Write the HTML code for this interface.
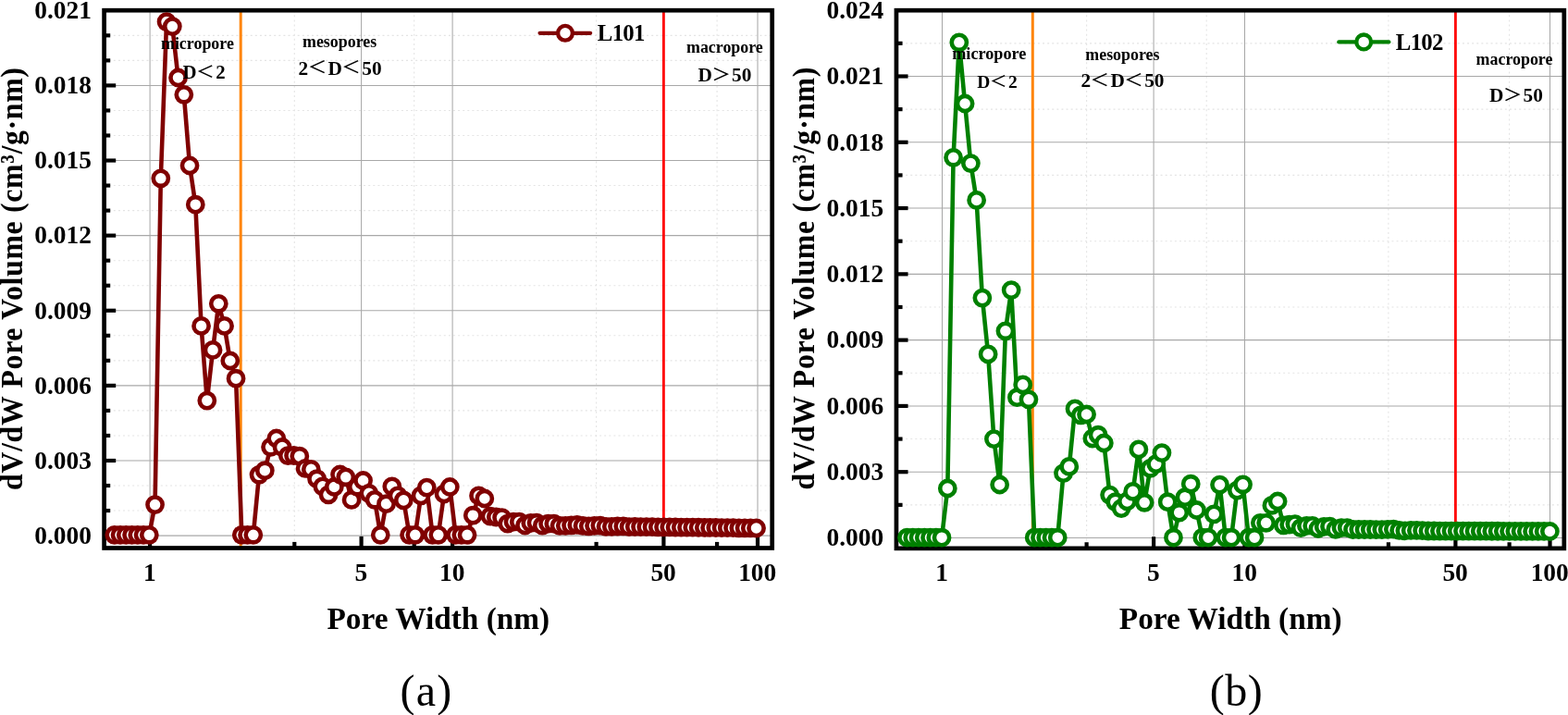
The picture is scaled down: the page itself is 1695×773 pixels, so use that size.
<!DOCTYPE html>
<html lang="en"><head><meta charset="utf-8"><title>Pore size distribution of L101 and L102</title>
<style>html,body{margin:0;padding:0;background:#fff}svg{display:block}text{font-family:'Liberation Serif', 'Noto Serif CJK SC', serif;fill:#000}.b{font-weight:bold}.tk{font-size:27.4px;font-weight:bold}.ti{font-size:33.33px;font-weight:bold}.cp{font-size:48px}.lg{font-size:24.8px;font-weight:bold;letter-spacing:-0.7px}.fw{font-family:"Liberation Serif","Noto Sans CJK SC",sans-serif;font-weight:500}</style></head><body>
<svg width="1695" height="773" viewBox="0 0 1695 773">
<rect width="1695" height="773" fill="#fff"/>
<g>
<g stroke="#e4e4e4" stroke-width="1.1" stroke-dasharray="2 3.1" fill="none">
<path d="M112.6 552.06H834.7"/>
<path d="M112.6 525.02H834.7"/>
<path d="M112.6 470.95H834.7"/>
<path d="M112.6 443.91H834.7"/>
<path d="M112.6 389.83H834.7"/>
<path d="M112.6 362.8H834.7"/>
<path d="M112.6 308.72H834.7"/>
<path d="M112.6 281.68H834.7"/>
<path d="M112.6 227.6H834.7"/>
<path d="M112.6 200.57H834.7"/>
<path d="M112.6 146.49H834.7"/>
<path d="M112.6 119.45H834.7"/>
<path d="M112.6 65.38H834.7"/>
<path d="M112.6 38.34H834.7"/>
<path d="M318.3 11.2V592.5"/>
<path d="M447.7 11.2V592.5"/>
<path d="M644.6 11.2V592.5"/>
<path d="M775.1 11.2V592.5"/>
</g>
<g stroke="#a8a8a8" stroke-width="1.05" fill="none">
<path d="M112.6 579.1H834.7"/>
<path d="M112.6 497.99H834.7"/>
<path d="M112.6 416.87H834.7"/>
<path d="M112.6 335.76H834.7"/>
<path d="M112.6 254.64H834.7"/>
<path d="M112.6 173.53H834.7"/>
<path d="M112.6 92.41H834.7"/>
<path d="M162.1 11.2V592.5"/>
<path d="M390.6 11.2V592.5"/>
<path d="M489.1 11.2V592.5"/>
<path d="M717.4 11.2V592.5"/>
<path d="M819 11.2V592.5"/>
</g>
<path d="M260.2 11.2V592.5" stroke="#ff850a" stroke-width="3.0" fill="none"/>
<path d="M717.4 11.2V592.5" stroke="#ff0000" stroke-width="2.8" fill="none"/>
<g stroke="#000" stroke-width="4.2" fill="none">
<path d="M112.6 497.99h12.6"/>
<path d="M112.6 416.87h12.6"/>
<path d="M112.6 335.76h12.6"/>
<path d="M112.6 254.64h12.6"/>
<path d="M112.6 173.53h12.6"/>
<path d="M112.6 92.41h12.6"/>
<path d="M112.6 552.06h6.6"/>
<path d="M112.6 525.02h6.6"/>
<path d="M112.6 470.95h6.6"/>
<path d="M112.6 443.91h6.6"/>
<path d="M112.6 389.83h6.6"/>
<path d="M112.6 362.8h6.6"/>
<path d="M112.6 308.72h6.6"/>
<path d="M112.6 281.68h6.6"/>
<path d="M112.6 227.6h6.6"/>
<path d="M112.6 200.57h6.6"/>
<path d="M112.6 146.49h6.6"/>
<path d="M112.6 119.45h6.6"/>
<path d="M112.6 65.38h6.6"/>
<path d="M112.6 38.34h6.6"/>
<path d="M162.1 592.5v-12.6"/>
<path d="M390.6 592.5v-12.6"/>
<path d="M489.1 592.5v-12.6"/>
<path d="M717.4 592.5v-12.6"/>
<path d="M819 592.5v-12.6"/>
<path d="M318.3 592.5v-6.6"/>
<path d="M447.7 592.5v-6.6"/>
<path d="M644.6 592.5v-6.6"/>
<path d="M775.1 592.5v-6.6"/>
</g>
<rect x="112.6" y="11.2" width="722.1" height="581.3" fill="none" stroke="#000" stroke-width="4.7"/>
<polyline fill="none" stroke="#800000" stroke-width="4.6" stroke-linejoin="round" points="123.8,578.3 130.05,578.3 136.3,578.3 142.55,578.3 148.8,578.3 155.05,578.3 161.3,578.3 167.55,545.6 173.8,192.8 180.05,23.6 186.3,28.6 192.55,84 198.8,102.3 205.05,179 211.3,221.2 217.55,352.4 223.8,433.1 230.05,378.4 236.3,328.3 242.55,352.4 248.8,390 255.05,409.2 261.3,578.3 267.55,578.3 273.8,578.3 280.05,513.3 286.3,508.7 292.55,483.3 298.8,474 305.05,483.5 311.3,492.6 317.55,492.5 323.8,493.2 330.05,506.4 336.3,507.4 342.55,517.7 348.8,525.8 355.05,534.8 361.3,526.5 367.55,513 373.8,515.8 380.05,540.4 386.3,526.3 392.55,519.5 398.8,533.3 405.05,540.3 411.3,578.3 417.55,544.7 423.8,525.9 430.05,535.9 436.3,540.9 442.55,578.3 448.8,578.3 455.05,535.9 461.3,527.1 467.55,578.3 473.8,578.3 480.05,534 486.3,526.5 492.55,578.3 498.8,578.3 505.05,578.3 511.3,557.2 517.55,535.9 523.8,539 530.05,558.2 536.3,559 542.55,559.6 548.8,566.2 555.05,564.2 561.3,564.2 567.55,568 573.8,565.4 580.05,565.2 586.3,568.2 592.55,566.2 598.8,566.2 605.05,568.3 611.3,568.3 617.55,567.8 623.8,567.4 630.05,568.4 636.3,568.8 642.55,568.3 648.8,568.1 655.05,569.3 661.3,569.3 667.55,569 673.8,568.9 680.05,569.6 686.3,569.5 692.55,569.57 698.8,569.64 705.05,569.71 711.3,569.78 717.55,569.85 723.8,569.92 730.05,569.99 736.3,570.06 742.55,570.13 748.8,570.2 755.05,570.27 761.3,570.35 767.55,570.42 773.8,570.49 780.05,570.56 786.3,570.64 792.55,570.71 798.8,570.78 805.05,570.85 811.3,570.93 817.55,571"/>
<g fill="#fff" stroke="#800000" stroke-width="4.6">
<circle cx="123.8" cy="578.3" r="8.1"/>
<circle cx="130.05" cy="578.3" r="8.1"/>
<circle cx="136.3" cy="578.3" r="8.1"/>
<circle cx="142.55" cy="578.3" r="8.1"/>
<circle cx="148.8" cy="578.3" r="8.1"/>
<circle cx="155.05" cy="578.3" r="8.1"/>
<circle cx="161.3" cy="578.3" r="8.1"/>
<circle cx="167.55" cy="545.6" r="8.1"/>
<circle cx="173.8" cy="192.8" r="8.1"/>
<circle cx="180.05" cy="23.6" r="8.1"/>
<circle cx="186.3" cy="28.6" r="8.1"/>
<circle cx="192.55" cy="84" r="8.1"/>
<circle cx="198.8" cy="102.3" r="8.1"/>
<circle cx="205.05" cy="179" r="8.1"/>
<circle cx="211.3" cy="221.2" r="8.1"/>
<circle cx="217.55" cy="352.4" r="8.1"/>
<circle cx="223.8" cy="433.1" r="8.1"/>
<circle cx="230.05" cy="378.4" r="8.1"/>
<circle cx="236.3" cy="328.3" r="8.1"/>
<circle cx="242.55" cy="352.4" r="8.1"/>
<circle cx="248.8" cy="390" r="8.1"/>
<circle cx="255.05" cy="409.2" r="8.1"/>
<circle cx="261.3" cy="578.3" r="8.1"/>
<circle cx="267.55" cy="578.3" r="8.1"/>
<circle cx="273.8" cy="578.3" r="8.1"/>
<circle cx="280.05" cy="513.3" r="8.1"/>
<circle cx="286.3" cy="508.7" r="8.1"/>
<circle cx="292.55" cy="483.3" r="8.1"/>
<circle cx="298.8" cy="474" r="8.1"/>
<circle cx="305.05" cy="483.5" r="8.1"/>
<circle cx="311.3" cy="492.6" r="8.1"/>
<circle cx="317.55" cy="492.5" r="8.1"/>
<circle cx="323.8" cy="493.2" r="8.1"/>
<circle cx="330.05" cy="506.4" r="8.1"/>
<circle cx="336.3" cy="507.4" r="8.1"/>
<circle cx="342.55" cy="517.7" r="8.1"/>
<circle cx="348.8" cy="525.8" r="8.1"/>
<circle cx="355.05" cy="534.8" r="8.1"/>
<circle cx="361.3" cy="526.5" r="8.1"/>
<circle cx="367.55" cy="513" r="8.1"/>
<circle cx="373.8" cy="515.8" r="8.1"/>
<circle cx="380.05" cy="540.4" r="8.1"/>
<circle cx="386.3" cy="526.3" r="8.1"/>
<circle cx="392.55" cy="519.5" r="8.1"/>
<circle cx="398.8" cy="533.3" r="8.1"/>
<circle cx="405.05" cy="540.3" r="8.1"/>
<circle cx="411.3" cy="578.3" r="8.1"/>
<circle cx="417.55" cy="544.7" r="8.1"/>
<circle cx="423.8" cy="525.9" r="8.1"/>
<circle cx="430.05" cy="535.9" r="8.1"/>
<circle cx="436.3" cy="540.9" r="8.1"/>
<circle cx="442.55" cy="578.3" r="8.1"/>
<circle cx="448.8" cy="578.3" r="8.1"/>
<circle cx="455.05" cy="535.9" r="8.1"/>
<circle cx="461.3" cy="527.1" r="8.1"/>
<circle cx="467.55" cy="578.3" r="8.1"/>
<circle cx="473.8" cy="578.3" r="8.1"/>
<circle cx="480.05" cy="534" r="8.1"/>
<circle cx="486.3" cy="526.5" r="8.1"/>
<circle cx="492.55" cy="578.3" r="8.1"/>
<circle cx="498.8" cy="578.3" r="8.1"/>
<circle cx="505.05" cy="578.3" r="8.1"/>
<circle cx="511.3" cy="557.2" r="8.1"/>
<circle cx="517.55" cy="535.9" r="8.1"/>
<circle cx="523.8" cy="539" r="8.1"/>
<circle cx="530.05" cy="558.2" r="8.1"/>
<circle cx="536.3" cy="559" r="8.1"/>
<circle cx="542.55" cy="559.6" r="8.1"/>
<circle cx="548.8" cy="566.2" r="8.1"/>
<circle cx="555.05" cy="564.2" r="8.1"/>
<circle cx="561.3" cy="564.2" r="8.1"/>
<circle cx="567.55" cy="568" r="8.1"/>
<circle cx="573.8" cy="565.4" r="8.1"/>
<circle cx="580.05" cy="565.2" r="8.1"/>
<circle cx="586.3" cy="568.2" r="8.1"/>
<circle cx="592.55" cy="566.2" r="8.1"/>
<circle cx="598.8" cy="566.2" r="8.1"/>
<circle cx="605.05" cy="568.3" r="8.1"/>
<circle cx="611.3" cy="568.3" r="8.1"/>
<circle cx="617.55" cy="567.8" r="8.1"/>
<circle cx="623.8" cy="567.4" r="8.1"/>
<circle cx="630.05" cy="568.4" r="8.1"/>
<circle cx="636.3" cy="568.8" r="8.1"/>
<circle cx="642.55" cy="568.3" r="8.1"/>
<circle cx="648.8" cy="568.1" r="8.1"/>
<circle cx="655.05" cy="569.3" r="8.1"/>
<circle cx="661.3" cy="569.3" r="8.1"/>
<circle cx="667.55" cy="569" r="8.1"/>
<circle cx="673.8" cy="568.9" r="8.1"/>
<circle cx="680.05" cy="569.6" r="8.1"/>
<circle cx="686.3" cy="569.5" r="8.1"/>
<circle cx="692.55" cy="569.57" r="8.1"/>
<circle cx="698.8" cy="569.64" r="8.1"/>
<circle cx="705.05" cy="569.71" r="8.1"/>
<circle cx="711.3" cy="569.78" r="8.1"/>
<circle cx="717.55" cy="569.85" r="8.1"/>
<circle cx="723.8" cy="569.92" r="8.1"/>
<circle cx="730.05" cy="569.99" r="8.1"/>
<circle cx="736.3" cy="570.06" r="8.1"/>
<circle cx="742.55" cy="570.13" r="8.1"/>
<circle cx="748.8" cy="570.2" r="8.1"/>
<circle cx="755.05" cy="570.27" r="8.1"/>
<circle cx="761.3" cy="570.35" r="8.1"/>
<circle cx="767.55" cy="570.42" r="8.1"/>
<circle cx="773.8" cy="570.49" r="8.1"/>
<circle cx="780.05" cy="570.56" r="8.1"/>
<circle cx="786.3" cy="570.64" r="8.1"/>
<circle cx="792.55" cy="570.71" r="8.1"/>
<circle cx="798.8" cy="570.78" r="8.1"/>
<circle cx="805.05" cy="570.85" r="8.1"/>
<circle cx="811.3" cy="570.93" r="8.1"/>
<circle cx="817.55" cy="571" r="8.1"/>
</g>
<text class="b" x="174" y="52.6" font-size="17.9">micropore</text>
<text class="b" x="197.4" y="84.65" font-size="20.8">D<tspan class="fw" font-size="17.89" dx="-0.6" dy="-1.11" textLength="20.18" lengthAdjust="spacingAndGlyphs">＜</tspan><tspan dx="1.22" dy="1.11">2</tspan></text>
<text class="b" x="327" y="50.7" font-size="17.9">mesopores</text>
<text class="b" x="322.6" y="80.6" font-size="21.3">2<tspan class="fw" font-size="18.32" dx="-0.6" dy="-1.13" textLength="20.66" lengthAdjust="spacingAndGlyphs">＜</tspan><tspan dx="1.24" dy="1.13">D</tspan><tspan class="fw" font-size="18.32" dx="-0.6" dy="-1.13" textLength="20.66" lengthAdjust="spacingAndGlyphs">＜</tspan><tspan dx="1.24" dy="1.13">50</tspan></text>
<text class="b" x="742" y="56.5" font-size="17.9">macropore</text>
<text class="b" x="754.4" y="88.1" font-size="21.3">D<tspan class="fw" font-size="18.32" dx="-0.6" dy="-1.13" textLength="20.66" lengthAdjust="spacingAndGlyphs">＞</tspan><tspan dx="1.24" dy="1.13">50</tspan></text>
<path d="M583.6 35.8H638.1" stroke="#800000" stroke-width="4.3" stroke-linecap="round" fill="none"/>
<circle cx="611" cy="35.8" r="7.9" fill="#fff" stroke="#800000" stroke-width="4.3"/>
<text class="lg" x="645.8" y="43.6">L101</text>
<text class="tk" text-anchor="end" x="98.9" y="587.9">0.000</text>
<text class="tk" text-anchor="end" x="98.9" y="506.79">0.003</text>
<text class="tk" text-anchor="end" x="98.9" y="425.67">0.006</text>
<text class="tk" text-anchor="end" x="98.9" y="344.56">0.009</text>
<text class="tk" text-anchor="end" x="98.9" y="263.44">0.012</text>
<text class="tk" text-anchor="end" x="98.9" y="182.33">0.015</text>
<text class="tk" text-anchor="end" x="98.9" y="101.21">0.018</text>
<text class="tk" text-anchor="end" x="98.9" y="20.1">0.021</text>
<text class="tk" text-anchor="middle" x="161.8" y="628.3">1</text>
<text class="tk" text-anchor="middle" x="390.3" y="628.3">5</text>
<text class="tk" text-anchor="middle" x="488.8" y="628.3">10</text>
<text class="tk" text-anchor="middle" x="717.1" y="628.3">50</text>
<text class="tk" text-anchor="middle" x="818.7" y="628.3">100</text>
<text class="ti" text-anchor="middle" x="473.8" y="679.8">Pore Width (nm)</text>
<text class="ti" text-anchor="middle" letter-spacing="0.7" transform="translate(24.3 301.2) rotate(-90) scale(0.955 1)">dV/dW Pore Volume (cm³/g·nm)</text>
<text class="cp" text-anchor="middle" letter-spacing="1.3" x="461" y="763.2">(a)</text>
</g>
<g>
<g stroke="#e4e4e4" stroke-width="1.1" stroke-dasharray="2 3.1" fill="none">
<path d="M968.95 545.86H1690.8"/>
<path d="M968.95 474.57H1690.8"/>
<path d="M968.95 403.28H1690.8"/>
<path d="M968.95 331.99H1690.8"/>
<path d="M968.95 260.71H1690.8"/>
<path d="M968.95 189.42H1690.8"/>
<path d="M968.95 118.13H1690.8"/>
<path d="M968.95 46.84H1690.8"/>
<path d="M1174.6 11.2V592.85"/>
<path d="M1304.2 11.2V592.85"/>
<path d="M1500.9 11.2V592.85"/>
<path d="M1631.6 11.2V592.85"/>
</g>
<g stroke="#a8a8a8" stroke-width="1.05" fill="none">
<path d="M968.95 581.5H1690.8"/>
<path d="M968.95 510.21H1690.8"/>
<path d="M968.95 438.93H1690.8"/>
<path d="M968.95 367.64H1690.8"/>
<path d="M968.95 296.35H1690.8"/>
<path d="M968.95 225.06H1690.8"/>
<path d="M968.95 153.78H1690.8"/>
<path d="M968.95 82.49H1690.8"/>
<path d="M1018.5 11.2V592.85"/>
<path d="M1247.1 11.2V592.85"/>
<path d="M1345.5 11.2V592.85"/>
<path d="M1573.4 11.2V592.85"/>
<path d="M1675.5 11.2V592.85"/>
</g>
<path d="M1116.3 11.2V592.85" stroke="#ff850a" stroke-width="3.0" fill="none"/>
<path d="M1573.4 11.2V592.85" stroke="#ff0000" stroke-width="2.8" fill="none"/>
<g stroke="#000" stroke-width="4.2" fill="none">
<path d="M968.95 510.21h12.6"/>
<path d="M968.95 438.93h12.6"/>
<path d="M968.95 367.64h12.6"/>
<path d="M968.95 296.35h12.6"/>
<path d="M968.95 225.06h12.6"/>
<path d="M968.95 153.78h12.6"/>
<path d="M968.95 82.49h12.6"/>
<path d="M968.95 545.86h6.6"/>
<path d="M968.95 474.57h6.6"/>
<path d="M968.95 403.28h6.6"/>
<path d="M968.95 331.99h6.6"/>
<path d="M968.95 260.71h6.6"/>
<path d="M968.95 189.42h6.6"/>
<path d="M968.95 118.13h6.6"/>
<path d="M968.95 46.84h6.6"/>
<path d="M1018.5 592.85v-12.6"/>
<path d="M1247.1 592.85v-12.6"/>
<path d="M1345.5 592.85v-12.6"/>
<path d="M1573.4 592.85v-12.6"/>
<path d="M1675.5 592.85v-12.6"/>
<path d="M1174.6 592.85v-6.6"/>
<path d="M1304.2 592.85v-6.6"/>
<path d="M1500.9 592.85v-6.6"/>
<path d="M1631.6 592.85v-6.6"/>
</g>
<rect x="968.95" y="11.2" width="721.85" height="581.65" fill="none" stroke="#000" stroke-width="4.7"/>
<polyline fill="none" stroke="#008000" stroke-width="4.6" stroke-linejoin="round" points="980.5,581.2 986.76,581.2 993.02,581.2 999.28,581.2 1005.54,581.2 1011.8,581.2 1018.06,581.2 1024.32,528 1030.58,170.3 1036.84,45.8 1043.1,112 1049.36,176.6 1055.62,216.4 1061.88,322.1 1068.14,382.9 1074.4,474.6 1080.66,524 1086.92,357.8 1093.18,313.6 1099.44,429.7 1105.7,415.9 1111.96,431.8 1118.22,581.2 1124.48,581.2 1130.74,581.2 1137,581.2 1143.26,581.2 1149.52,511.7 1155.78,504.4 1162.04,441.9 1168.3,448.8 1174.56,448 1180.82,474 1187.08,470.2 1193.34,479 1199.6,535.1 1205.86,542.7 1212.12,549.6 1218.38,542 1224.64,531.4 1230.9,485.9 1237.16,543.3 1243.42,506.4 1249.68,501.6 1255.94,489.6 1262.2,542.7 1268.46,581.2 1274.72,554.2 1280.98,537.7 1287.24,523.2 1293.5,551.5 1299.76,581.2 1306.02,581.2 1312.28,555.9 1318.54,524.1 1324.8,581.2 1331.06,581.2 1337.32,530.1 1343.58,523.8 1349.84,581.2 1356.1,581.2 1362.36,565.3 1368.62,565.3 1374.88,546.4 1381.14,542 1387.4,567.9 1393.66,567.2 1399.92,566.6 1406.18,570.6 1412.44,568.4 1418.7,568.4 1424.96,571.5 1431.22,569.4 1437.48,569.2 1443.74,572.4 1450,570.6 1456.26,570.6 1462.52,572.5 1468.78,572.5 1475.04,572.5 1481.3,572.5 1487.56,572.6 1493.82,572.6 1500.08,572.3 1506.34,572.2 1512.6,573.4 1518.86,573.8 1525.12,573.4 1531.38,573.4 1537.64,573.7 1543.9,574 1550.16,574.02 1556.42,574.04 1562.68,574.06 1568.94,574.08 1575.2,574.1 1581.46,574.12 1587.72,574.14 1593.98,574.16 1600.24,574.18 1606.5,574.2 1612.76,574.23 1619.02,574.25 1625.28,574.28 1631.54,574.31 1637.8,574.34 1644.06,574.36 1650.32,574.39 1656.58,574.42 1662.84,574.45 1669.1,574.47 1675.36,574.5"/>
<g fill="#fff" stroke="#008000" stroke-width="4.6">
<circle cx="980.5" cy="581.2" r="8.1"/>
<circle cx="986.76" cy="581.2" r="8.1"/>
<circle cx="993.02" cy="581.2" r="8.1"/>
<circle cx="999.28" cy="581.2" r="8.1"/>
<circle cx="1005.54" cy="581.2" r="8.1"/>
<circle cx="1011.8" cy="581.2" r="8.1"/>
<circle cx="1018.06" cy="581.2" r="8.1"/>
<circle cx="1024.32" cy="528" r="8.1"/>
<circle cx="1030.58" cy="170.3" r="8.1"/>
<circle cx="1036.84" cy="45.8" r="8.1"/>
<circle cx="1043.1" cy="112" r="8.1"/>
<circle cx="1049.36" cy="176.6" r="8.1"/>
<circle cx="1055.62" cy="216.4" r="8.1"/>
<circle cx="1061.88" cy="322.1" r="8.1"/>
<circle cx="1068.14" cy="382.9" r="8.1"/>
<circle cx="1074.4" cy="474.6" r="8.1"/>
<circle cx="1080.66" cy="524" r="8.1"/>
<circle cx="1086.92" cy="357.8" r="8.1"/>
<circle cx="1093.18" cy="313.6" r="8.1"/>
<circle cx="1099.44" cy="429.7" r="8.1"/>
<circle cx="1105.7" cy="415.9" r="8.1"/>
<circle cx="1111.96" cy="431.8" r="8.1"/>
<circle cx="1118.22" cy="581.2" r="8.1"/>
<circle cx="1124.48" cy="581.2" r="8.1"/>
<circle cx="1130.74" cy="581.2" r="8.1"/>
<circle cx="1137" cy="581.2" r="8.1"/>
<circle cx="1143.26" cy="581.2" r="8.1"/>
<circle cx="1149.52" cy="511.7" r="8.1"/>
<circle cx="1155.78" cy="504.4" r="8.1"/>
<circle cx="1162.04" cy="441.9" r="8.1"/>
<circle cx="1168.3" cy="448.8" r="8.1"/>
<circle cx="1174.56" cy="448" r="8.1"/>
<circle cx="1180.82" cy="474" r="8.1"/>
<circle cx="1187.08" cy="470.2" r="8.1"/>
<circle cx="1193.34" cy="479" r="8.1"/>
<circle cx="1199.6" cy="535.1" r="8.1"/>
<circle cx="1205.86" cy="542.7" r="8.1"/>
<circle cx="1212.12" cy="549.6" r="8.1"/>
<circle cx="1218.38" cy="542" r="8.1"/>
<circle cx="1224.64" cy="531.4" r="8.1"/>
<circle cx="1230.9" cy="485.9" r="8.1"/>
<circle cx="1237.16" cy="543.3" r="8.1"/>
<circle cx="1243.42" cy="506.4" r="8.1"/>
<circle cx="1249.68" cy="501.6" r="8.1"/>
<circle cx="1255.94" cy="489.6" r="8.1"/>
<circle cx="1262.2" cy="542.7" r="8.1"/>
<circle cx="1268.46" cy="581.2" r="8.1"/>
<circle cx="1274.72" cy="554.2" r="8.1"/>
<circle cx="1280.98" cy="537.7" r="8.1"/>
<circle cx="1287.24" cy="523.2" r="8.1"/>
<circle cx="1293.5" cy="551.5" r="8.1"/>
<circle cx="1299.76" cy="581.2" r="8.1"/>
<circle cx="1306.02" cy="581.2" r="8.1"/>
<circle cx="1312.28" cy="555.9" r="8.1"/>
<circle cx="1318.54" cy="524.1" r="8.1"/>
<circle cx="1324.8" cy="581.2" r="8.1"/>
<circle cx="1331.06" cy="581.2" r="8.1"/>
<circle cx="1337.32" cy="530.1" r="8.1"/>
<circle cx="1343.58" cy="523.8" r="8.1"/>
<circle cx="1349.84" cy="581.2" r="8.1"/>
<circle cx="1356.1" cy="581.2" r="8.1"/>
<circle cx="1362.36" cy="565.3" r="8.1"/>
<circle cx="1368.62" cy="565.3" r="8.1"/>
<circle cx="1374.88" cy="546.4" r="8.1"/>
<circle cx="1381.14" cy="542" r="8.1"/>
<circle cx="1387.4" cy="567.9" r="8.1"/>
<circle cx="1393.66" cy="567.2" r="8.1"/>
<circle cx="1399.92" cy="566.6" r="8.1"/>
<circle cx="1406.18" cy="570.6" r="8.1"/>
<circle cx="1412.44" cy="568.4" r="8.1"/>
<circle cx="1418.7" cy="568.4" r="8.1"/>
<circle cx="1424.96" cy="571.5" r="8.1"/>
<circle cx="1431.22" cy="569.4" r="8.1"/>
<circle cx="1437.48" cy="569.2" r="8.1"/>
<circle cx="1443.74" cy="572.4" r="8.1"/>
<circle cx="1450" cy="570.6" r="8.1"/>
<circle cx="1456.26" cy="570.6" r="8.1"/>
<circle cx="1462.52" cy="572.5" r="8.1"/>
<circle cx="1468.78" cy="572.5" r="8.1"/>
<circle cx="1475.04" cy="572.5" r="8.1"/>
<circle cx="1481.3" cy="572.5" r="8.1"/>
<circle cx="1487.56" cy="572.6" r="8.1"/>
<circle cx="1493.82" cy="572.6" r="8.1"/>
<circle cx="1500.08" cy="572.3" r="8.1"/>
<circle cx="1506.34" cy="572.2" r="8.1"/>
<circle cx="1512.6" cy="573.4" r="8.1"/>
<circle cx="1518.86" cy="573.8" r="8.1"/>
<circle cx="1525.12" cy="573.4" r="8.1"/>
<circle cx="1531.38" cy="573.4" r="8.1"/>
<circle cx="1537.64" cy="573.7" r="8.1"/>
<circle cx="1543.9" cy="574" r="8.1"/>
<circle cx="1550.16" cy="574.02" r="8.1"/>
<circle cx="1556.42" cy="574.04" r="8.1"/>
<circle cx="1562.68" cy="574.06" r="8.1"/>
<circle cx="1568.94" cy="574.08" r="8.1"/>
<circle cx="1575.2" cy="574.1" r="8.1"/>
<circle cx="1581.46" cy="574.12" r="8.1"/>
<circle cx="1587.72" cy="574.14" r="8.1"/>
<circle cx="1593.98" cy="574.16" r="8.1"/>
<circle cx="1600.24" cy="574.18" r="8.1"/>
<circle cx="1606.5" cy="574.2" r="8.1"/>
<circle cx="1612.76" cy="574.23" r="8.1"/>
<circle cx="1619.02" cy="574.25" r="8.1"/>
<circle cx="1625.28" cy="574.28" r="8.1"/>
<circle cx="1631.54" cy="574.31" r="8.1"/>
<circle cx="1637.8" cy="574.34" r="8.1"/>
<circle cx="1644.06" cy="574.36" r="8.1"/>
<circle cx="1650.32" cy="574.39" r="8.1"/>
<circle cx="1656.58" cy="574.42" r="8.1"/>
<circle cx="1662.84" cy="574.45" r="8.1"/>
<circle cx="1669.1" cy="574.47" r="8.1"/>
<circle cx="1675.36" cy="574.5" r="8.1"/>
</g>
<text class="b" x="1029.2" y="63.5" font-size="18.2">micropore</text>
<text class="b" x="1056.3" y="94.9" font-size="19.5">D<tspan class="fw" font-size="16.77" dx="-0.6" dy="-1.04" textLength="18.91" lengthAdjust="spacingAndGlyphs">＜</tspan><tspan dx="1.19" dy="1.04">2</tspan></text>
<text class="b" x="1173.3" y="64.6" font-size="17.9">mesopores</text>
<text class="b" x="1168.5" y="94.4" font-size="21.3">2<tspan class="fw" font-size="18.32" dx="-0.6" dy="-1.13" textLength="20.66" lengthAdjust="spacingAndGlyphs">＜</tspan><tspan dx="1.24" dy="1.13">D</tspan><tspan class="fw" font-size="18.32" dx="-0.6" dy="-1.13" textLength="20.66" lengthAdjust="spacingAndGlyphs">＜</tspan><tspan dx="1.24" dy="1.13">50</tspan></text>
<text class="b" x="1595.6" y="70.4" font-size="17.9">macropore</text>
<text class="b" x="1609.9" y="109.8" font-size="21.3">D<tspan class="fw" font-size="18.32" dx="-0.6" dy="-1.13" textLength="20.66" lengthAdjust="spacingAndGlyphs">＞</tspan><tspan dx="1.24" dy="1.13">50</tspan></text>
<path d="M1447.3 45.4H1501.3" stroke="#008000" stroke-width="4.3" stroke-linecap="round" fill="none"/>
<circle cx="1474.2" cy="45.4" r="7.9" fill="#fff" stroke="#008000" stroke-width="4.3"/>
<text class="lg" x="1508.8" y="53.6">L102</text>
<text class="tk" text-anchor="end" x="955.2" y="590.3">0.000</text>
<text class="tk" text-anchor="end" x="955.2" y="519.01">0.003</text>
<text class="tk" text-anchor="end" x="955.2" y="447.73">0.006</text>
<text class="tk" text-anchor="end" x="955.2" y="376.44">0.009</text>
<text class="tk" text-anchor="end" x="955.2" y="305.15">0.012</text>
<text class="tk" text-anchor="end" x="955.2" y="233.86">0.015</text>
<text class="tk" text-anchor="end" x="955.2" y="162.58">0.018</text>
<text class="tk" text-anchor="end" x="955.2" y="91.29">0.021</text>
<text class="tk" text-anchor="end" x="955.2" y="20">0.024</text>
<text class="tk" text-anchor="middle" x="1018.2" y="628.3">1</text>
<text class="tk" text-anchor="middle" x="1246.8" y="628.3">5</text>
<text class="tk" text-anchor="middle" x="1345.2" y="628.3">10</text>
<text class="tk" text-anchor="middle" x="1573.1" y="628.3">50</text>
<text class="tk" text-anchor="middle" x="1675.2" y="628.3">100</text>
<text class="ti" text-anchor="middle" x="1330.2" y="679.6">Pore Width (nm)</text>
<text class="ti" text-anchor="middle" letter-spacing="0.7" transform="translate(880.4 300.8) rotate(-90) scale(0.955 1)">dV/dW Pore Volume (cm³/g·nm)</text>
<text class="cp" text-anchor="middle" letter-spacing="0.5" x="1336.6" y="763.3">(b)</text>
</g>
</svg></body></html>
